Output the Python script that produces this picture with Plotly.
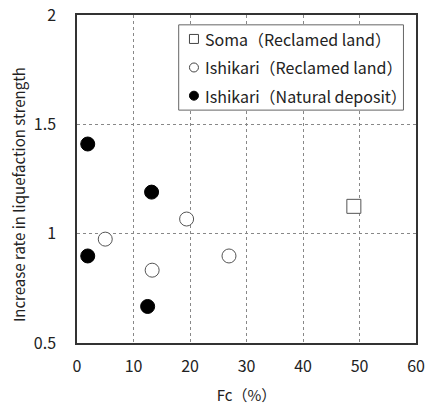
import plotly.graph_objects as go

soma_fc = [49.0]
soma_rate = [1.125]
ishikari_rec_fc = [5.0, 13.3, 19.4, 26.9]
ishikari_rec_rate = [0.975, 0.833, 1.067, 0.898]
ishikari_nat_fc = [1.9, 13.2, 1.9, 12.5]
ishikari_nat_rate = [1.41, 1.19, 0.898, 0.667]
names = ["Soma（Reclamed land）", "Ishikari（Reclamed land）", "Ishikari（Natural deposit）"]
y_title = "Increase rate in liquefaction strength"
x_title = "Fc（%）"

FONT = "Noto Sans CJK JP"
fig = go.Figure()
line = dict(color="#555", width=1)
fig.add_trace(go.Scatter(x=soma_fc, y=soma_rate, mode="markers", showlegend=False, name=names[0],
                         marker=dict(symbol="square", size=14, color="white", line=line)))
fig.add_trace(go.Scatter(x=ishikari_rec_fc, y=ishikari_rec_rate, mode="markers", showlegend=False, name=names[1],
                         marker=dict(symbol="circle", size=14, color="white", line=line)))
fig.add_trace(go.Scatter(x=ishikari_nat_fc, y=ishikari_nat_rate, mode="markers", showlegend=False, name=names[2],
                         marker=dict(symbol="circle", size=14, color="black", line=dict(color="black", width=1))))

# manual legend (paper coordinates)
fig.add_shape(type="rect", xref="paper", yref="paper", x0=0.300, x1=0.963, y0=0.710, y1=0.970,
              line=dict(color="#666", width=1), fillcolor="white", layer="above")
row_y = [0.927, 0.840, 0.754]
shapes_kind = ["rect", "circle", "circle"]
fills = ["white", "white", "black"]
for n, ry, k, f in zip(names, row_y, shapes_kind, fills):
    fig.add_shape(type=k, xref="paper", yref="paper", xsizemode="pixel", ysizemode="pixel",
                  xanchor=0.345, yanchor=ry, x0=-4.5, x1=4.5, y0=-4.5, y1=4.5,
                  line=dict(color="#444" if f == "white" else "black", width=1), fillcolor=f, layer="above")
    fig.add_annotation(xref="paper", yref="paper", x=0.372, y=ry, text=n, showarrow=False,
                       xanchor="left", yanchor="middle", font=dict(family=FONT, size=16, color="#222"))

# y-axis title as annotation (offset below centre like the original)
fig.add_annotation(xref="paper", yref="paper", x=-0.174, y=0.451, text=y_title, showarrow=False,
                   textangle=-90, xanchor="center", yanchor="middle",
                   font=dict(family=FONT, size=15, color="#222"))

fig.update_layout(
    width=425, height=405,
    margin=dict(l=77, r=9, t=15, b=62, autoexpand=False),
    plot_bgcolor="white", paper_bgcolor="white",
    font=dict(family=FONT, size=15, color="#222"),
    showlegend=False,
)
fig.update_xaxes(range=[0, 60], tickvals=[0, 10, 20, 30, 40, 50, 60], showline=True, mirror=True,
                 linecolor="#333", linewidth=1.5, showgrid=True, gridcolor="#888", griddash="dot",
                 gridwidth=1, zeroline=False, ticks="", automargin=False, ticklabelstandoff=8,
                 title=dict(text=x_title, standoff=16, font=dict(size=15)),
                 tickfont=dict(size=16))
fig.update_yaxes(range=[0.5, 2], tickvals=[0.5, 1, 1.5, 2], ticktext=["0.5", "1", "1.5", "2"],
                 showline=True, mirror=True, automargin=False, ticklabelstandoff=16,
                 linecolor="#333", linewidth=1.5, showgrid=True, gridcolor="#888", griddash="dot",
                 gridwidth=1, zeroline=False, ticks="",
                 tickfont=dict(size=16))
fig.write_html("out.html", config={"displayModeBar": False},
               post_script="document.body.style.margin='0px';document.body.style.overflow='hidden';")
